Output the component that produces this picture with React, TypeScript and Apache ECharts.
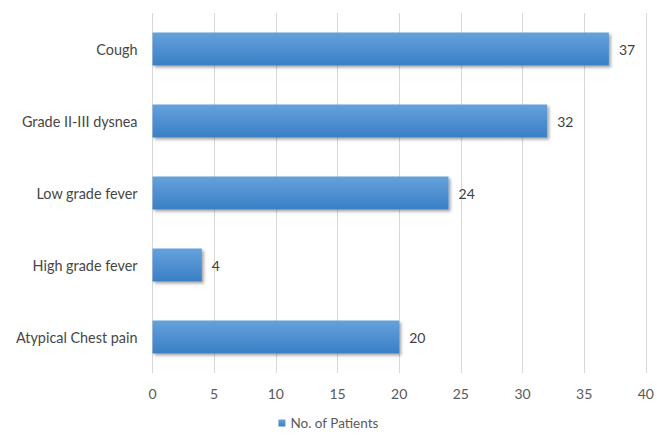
import React, { useEffect, useRef } from "react";
import * as echarts from "echarts";

const categories = ["Atypical Chest pain", "High grade fever", "Low grade fever", "Grade II-III dysnea", "Cough"];
const patients = [20, 4, 24, 32, 37];
const seriesName = "No. of Patients";

export default function App() {
  const ref = useRef<HTMLDivElement>(null);
  useEffect(() => {
    if (!ref.current) return;
    const chart = echarts.init(ref.current, null, { renderer: "svg" });
    const font = "Lato, 'Open Sans', sans-serif";
    chart.setOption({
      animation: false,
      backgroundColor: "#ffffff",
      textStyle: { fontFamily: font },
      grid: { left: 152.5, right: 7, top: 13, bottom: 62, containLabel: false },
      legend: {
        bottom: 0,
        left: "center",
        itemWidth: 7,
        itemHeight: 7,
        icon: "rect",
        itemGap: 4,
        textStyle: { fontFamily: font, fontSize: 13.5, color: "#595959" },
        data: [seriesName],
      },
      xAxis: {
        type: "value",
        min: 0,
        max: 40,
        interval: 5,
        axisLine: { show: false },
        axisTick: { show: false },
        splitLine: { show: true, lineStyle: { color: "#d9d9d9", width: 1 } },
        axisLabel: { color: "#595959", fontSize: 14, margin: 13, fontFamily: font },
      },
      yAxis: {
        type: "category",
        data: categories,
        axisLine: { show: false },
        axisTick: { show: false },
        axisLabel: { color: "#474747", fontSize: 14.4, margin: 15, fontFamily: font },
      },
      series: [
        {
          name: seriesName,
          type: "bar",
          data: patients,
          barWidth: "46%",
          itemStyle: {
            color: new echarts.graphic.LinearGradient(0, 0, 0, 1, [
              { offset: 0, color: "#65a2dc" },
              { offset: 1, color: "#3a7fc5" },
            ]),
            shadowBlur: 3,
            shadowOffsetX: 2,
            shadowOffsetY: 2,
            shadowColor: "rgba(0,0,0,0.35)",
          },
          label: {
            show: true,
            position: "right",
            distance: 10,
            color: "#404040",
            fontSize: 14,
            fontFamily: font,
          },
        },
      ],
    });
    return () => chart.dispose();
  }, []);
  return <div ref={ref} style={{ width: 657, height: 435, position: "absolute", left: 0, top: 0 }} />;
}
